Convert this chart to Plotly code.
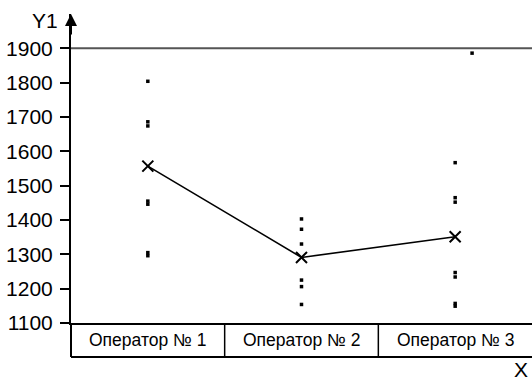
import plotly.graph_objects as go

categories = ["Оператор № 1", "Оператор № 2", "Оператор № 3"]
cat_pos = [1, 2, 3]
op1_vals = [1804, 1686, 1674, 1455, 1446, 1305, 1296]
op2_vals = [1403, 1373, 1330, 1225, 1206, 1154]
op3_vals = [1567, 1465, 1452, 1247, 1234, 1157, 1149]
extra_x = [3.11]
extra_y = [1886]
means = [1557, 1291, 1351]
y_ticks = [1100, 1200, 1300, 1400, 1500, 1600, 1700, 1800, 1900]

FONT = "Liberation Sans, Arial, sans-serif"

fig = go.Figure()
dot = dict(symbol="square", size=3.5, color="black", line=dict(width=0))
for pos, vals in zip(cat_pos, [op1_vals, op2_vals, op3_vals]):
    fig.add_trace(go.Scatter(x=[pos] * len(vals), y=vals, mode="markers",
                             marker=dot, showlegend=False, hoverinfo="y"))
fig.add_trace(go.Scatter(x=extra_x, y=extra_y, mode="markers", marker=dot,
                         showlegend=False, hoverinfo="y"))
fig.add_trace(go.Scatter(x=cat_pos, y=means, mode="lines+markers",
                         line=dict(color="black", width=1.6),
                         marker=dict(symbol="x-thin", size=11,
                                     line=dict(color="black", width=2)),
                         showlegend=False))

fig.update_layout(
    width=532, height=383,
    margin=dict(l=71, r=0, t=14, b=60),
    paper_bgcolor="white", plot_bgcolor="white",
    font=dict(family=FONT, color="black"),
    xaxis=dict(range=[0.5, 3.5], showgrid=False, zeroline=False,
               showticklabels=False, ticks="", showline=True,
               linecolor="black", linewidth=2),
    yaxis=dict(range=[1100, 2000], tickvals=y_ticks, showgrid=False,
               zeroline=False, ticks="outside", ticklen=9, tickwidth=2,
               tickcolor="black", showline=True, linecolor="black",
               linewidth=2, ticklabelstandoff=3,
               tickfont=dict(size=21, family=FONT)),
)

# 1900 reference line
fig.add_shape(type="line", xref="paper", yref="y", x0=0, x1=1, y0=1900, y1=1900,
              line=dict(color="#555555", width=2))

# table under the axis
tb = -0.11
fig.add_shape(type="line", xref="paper", yref="paper", x0=0, x1=1, y0=tb, y1=tb,
              line=dict(color="black", width=2))
fig.add_shape(type="line", xref="paper", yref="paper", x0=0, x1=0, y0=tb, y1=0,
              line=dict(color="black", width=2))
for b in [1 / 3, 2 / 3]:
    fig.add_shape(type="line", xref="paper", yref="paper", x0=b, x1=b, y0=tb, y1=0,
                  line=dict(color="black", width=1.5))
for pos, name in zip(cat_pos, categories):
    fig.add_annotation(x=pos, xref="x", y=tb / 2, yref="paper", text=name,
                       showarrow=False, font=dict(size=17.5, family=FONT),
                       xanchor="center", yanchor="middle")

# axis arrow
fig.add_annotation(x=0, xref="paper", y=2000, yref="y", ax=0, ay=22,
                   axref="pixel", ayref="pixel", text="", showarrow=True,
                   arrowhead=2, arrowsize=1.2, arrowwidth=2, arrowcolor="black")
fig.add_annotation(x=-0.056, xref="paper", y=0.978, yref="paper", text="Y1",
                   showarrow=False, font=dict(size=21, family=FONT),
                   xanchor="center", yanchor="middle")
fig.add_annotation(x=0.994, xref="paper", y=-0.152, yref="paper", text="X",
                   showarrow=False, font=dict(size=21, family=FONT),
                   xanchor="right", yanchor="middle", borderpad=0)

fig.write_html("out.html")
